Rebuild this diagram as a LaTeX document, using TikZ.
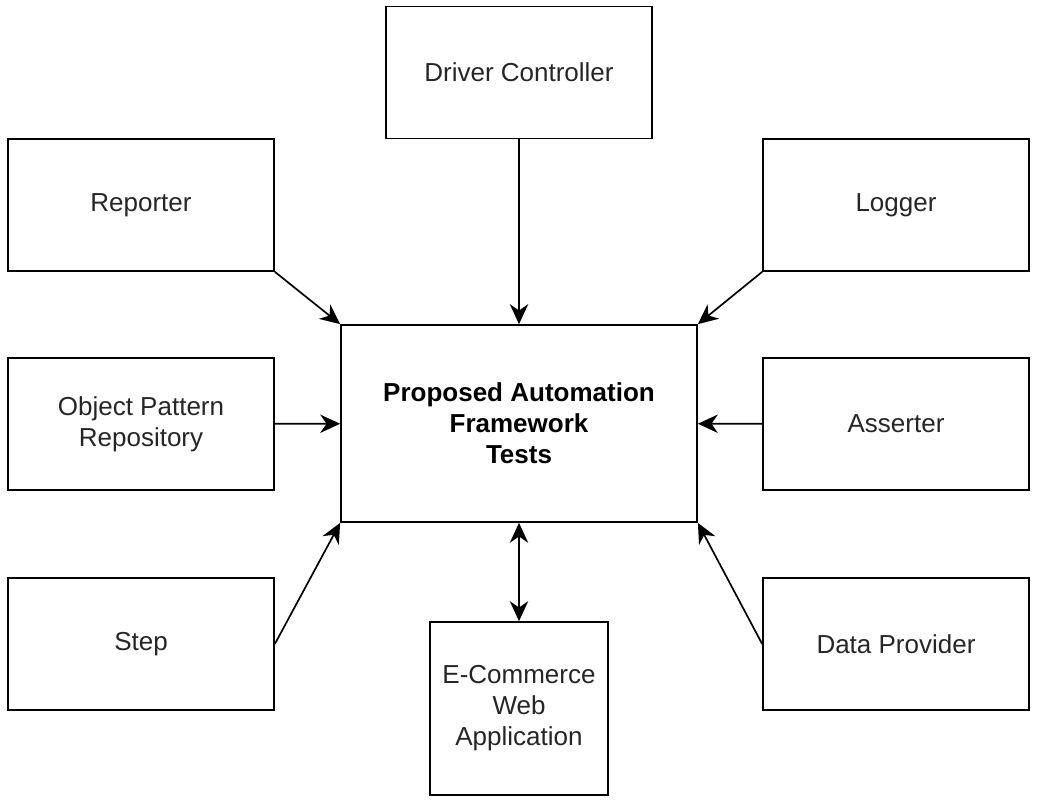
\documentclass[tikz,border=0pt]{standalone}
\usepackage{fontspec}
\setmainfont{Liberation Sans}
\usetikzlibrary{arrows.meta}
\tikzset{mybox/.style={draw=black,line width=1.2pt,fill=white,align=center,text=black!85,
	font=\fontsize{18.5}{22}\selectfont,inner sep=0pt,minimum width=6.65cm,minimum height=3.3cm}}
\tikzset{mytip/.tip={Stealth[length=5mm,width=4.6mm,inset=1.6mm]}}
\tikzset{myarrow/.style={line width=1.2pt,-mytip}}

\begin{document}
\begin{tikzpicture}
	\useasboundingbox (0,0) rectangle (25.925,20);

	% framework in the middle
	\node[mybox,minimum width=8.9cm,minimum height=4.925cm,text=black] (tests) at (12.975,9.4125)
		{\textbf{Proposed Automation}\\\textbf{Framework}\\\textbf{Tests}};

	\node[mybox] (driver) at (12.975,18.19) {Driver Controller};
	\node[mybox] (reporter) at (3.525,14.875) {Reporter};
	\node[mybox] (logger) at (22.4,14.875) {Logger};
	\node[mybox] (repo) at (3.525,9.4) {Object Pattern\\Repository};
	\node[mybox] (asserter) at (22.4,9.4) {Asserter};
	\node[mybox] (step) at (3.525,3.9) {Step};
	\node[mybox] (provider) at (22.4,3.9) {Data Provider};
	\node[mybox,minimum width=4.45cm,minimum height=4.325cm] (webapp) at (12.975,2.2875)
		{E-Commerce\\Web\\Application};

	% connections
	\draw[myarrow] (driver) -- (tests);
	\draw[myarrow] (reporter.south east) -- (tests.north west);
	\draw[myarrow] (logger.south west) -- (tests.north east);
	\draw[myarrow] (repo) -- (tests);
	\draw[myarrow] (asserter) -- (tests);
	\draw[myarrow] (step.east) -- (tests.south west);
	\draw[myarrow] (provider.west) -- (tests.south east);
	\draw[myarrow,mytip-mytip] (webapp) -- (tests);

\end{tikzpicture}
\end{document}
